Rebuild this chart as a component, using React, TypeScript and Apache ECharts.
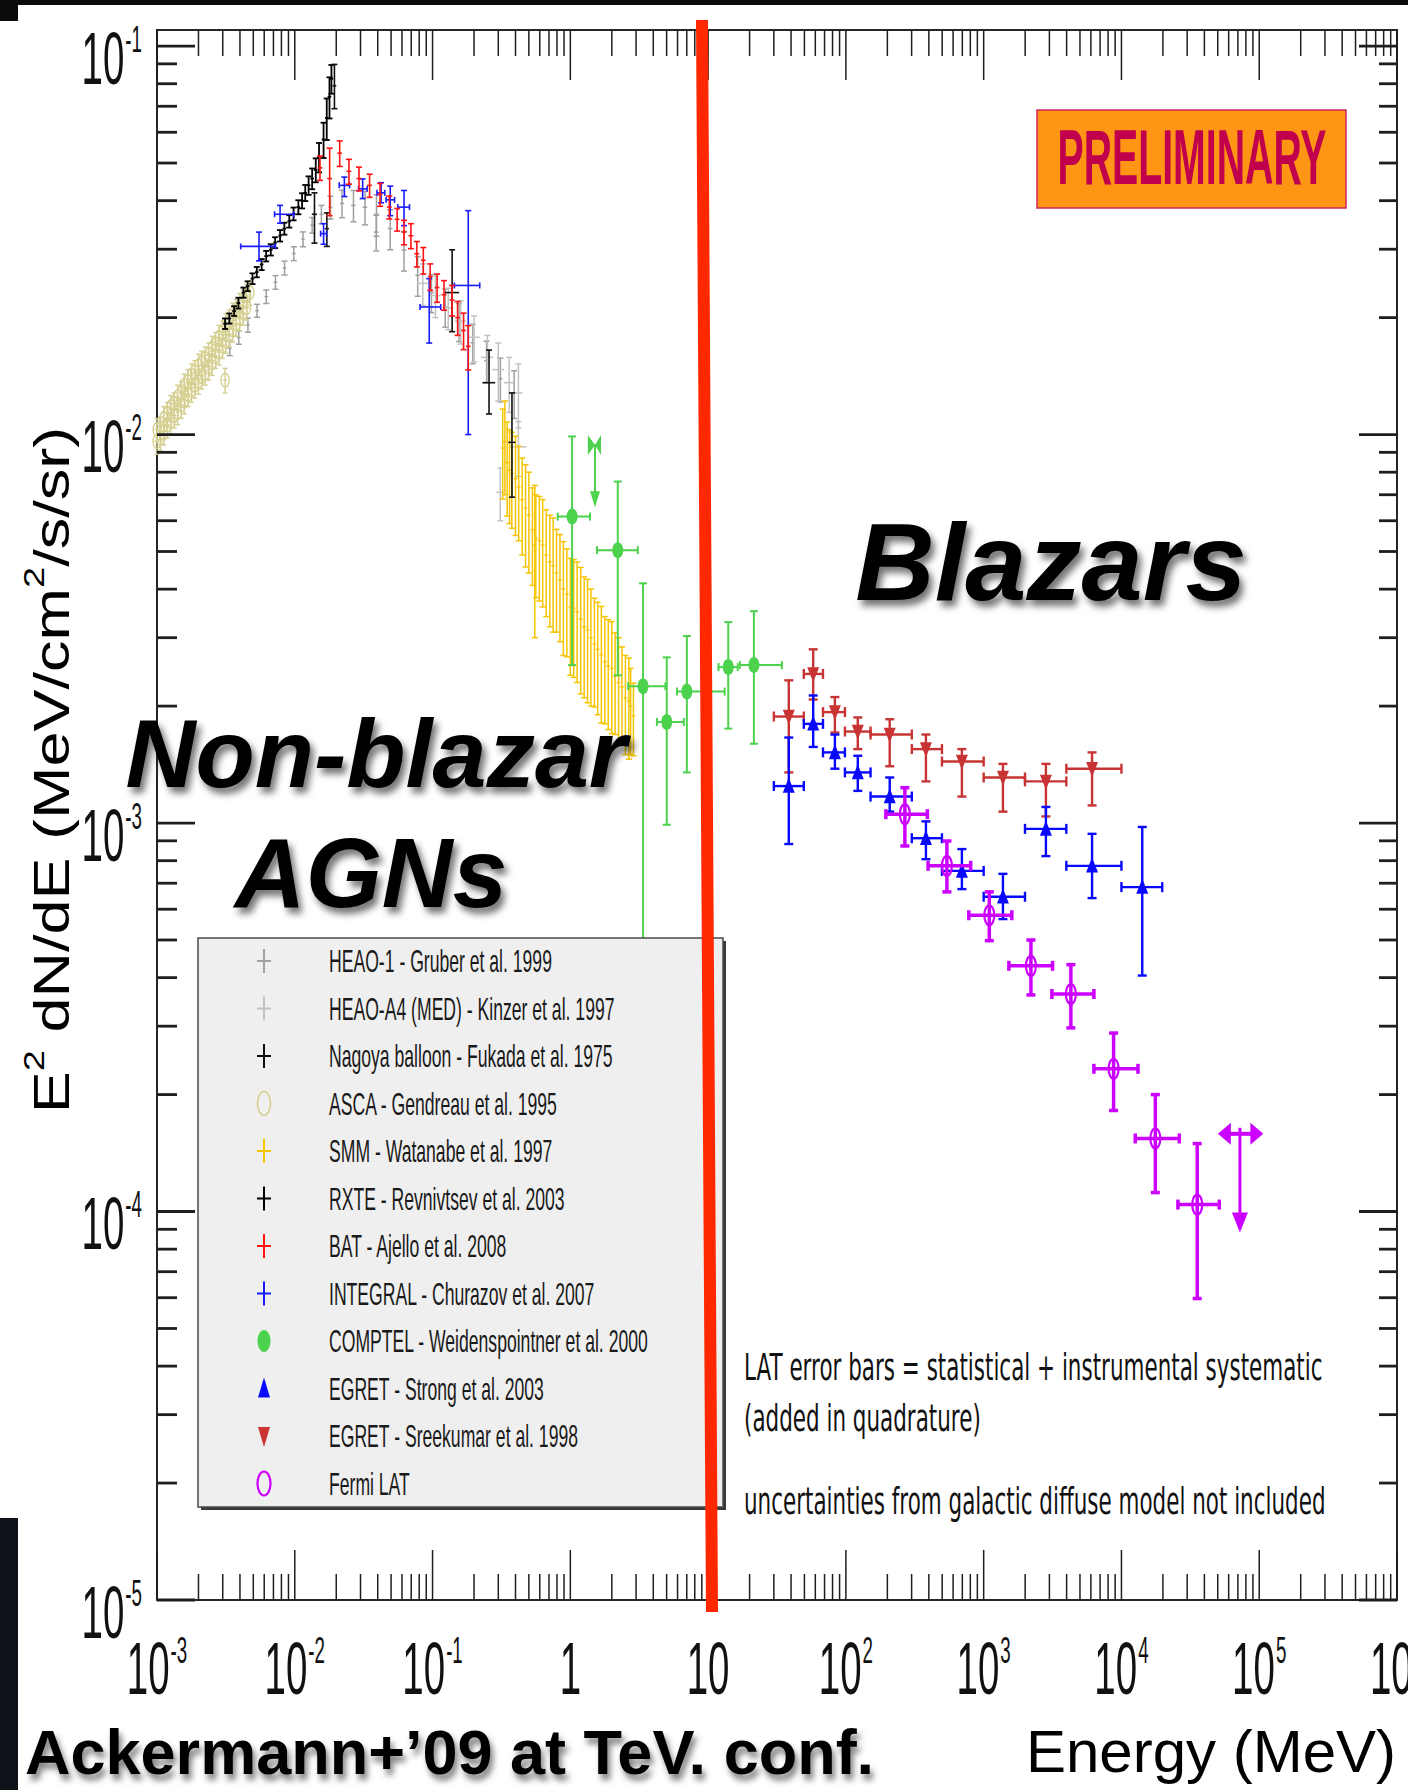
import React, { useEffect, useRef } from "react";
import * as echarts from "echarts";

// ---------------- page / axis ranges ----------------
const PAGE_W = 1408;
const PAGE_H = 1790;
const E_MIN = 1e-3; // MeV
const E_MAX = 1e6;
const F_MIN = 1e-5; // MeV cm^-2 s^-1 sr^-1
const F_MAX = 0.11;

const X_DECADES = [1e-3, 1e-2, 1e-1, 1, 10, 1e2, 1e3, 1e4, 1e5, 1e6];
const X_TICK_LABELS: [string, string][] = [
  ["10", "-3"], ["10", "-2"], ["10", "-1"], ["1", ""], ["10", ""],
  ["10", "2"], ["10", "3"], ["10", "4"], ["10", "5"], ["10", "6"],
];
const Y_DECADES = [1e-5, 1e-4, 1e-3, 1e-2, 1e-1];
const Y_TICK_LABELS: [string, string][] = [["10", "-5"], ["10", "-4"], ["10", "-3"], ["10", "-2"], ["10", "-1"]];
const MINOR_STEPS = [2, 3, 4, 5, 6, 7, 8, 9];

// ---------------- measurements ----------------
// rows: [E, F, dE, dF] (symmetric) or [E, F, Elo, Ehi, Flo, Fhi]

const ASCA_GENDREAU = [
  [1.00e-3, 0.0096, 3e-5, 7e-4], [1.00e-3, 0.0103, 3e-5, 7e-4], [1.06e-3, 0.0104, 3e-5, 7e-4],
  [1.06e-3, 0.0098, 3e-5, 7e-4], [1.12e-3, 0.0101, 3e-5, 7e-4], [1.12e-3, 0.0110, 3e-5, 8e-4],
  [1.19e-3, 0.0113, 4e-5, 8e-4], [1.19e-3, 0.0106, 4e-5, 8e-4], [1.26e-3, 0.0108, 4e-5, 8e-4],
  [1.26e-3, 0.0118, 4e-5, 8e-4], [1.33e-3, 0.0120, 4e-5, 8e-4], [1.33e-3, 0.0112, 4e-5, 8e-4],
  [1.41e-3, 0.0114, 4e-5, 8e-4], [1.41e-3, 0.0125, 4e-5, 9e-4], [1.50e-3, 0.0128, 5e-5, 9e-4],
  [1.50e-3, 0.0119, 5e-5, 9e-4], [1.58e-3, 0.0122, 5e-5, 9e-4], [1.58e-3, 0.0134, 5e-5, 9e-4],
  [1.68e-3, 0.0137, 5e-5, 1.0e-3], [1.68e-3, 0.0127, 5e-5, 9e-4], [1.78e-3, 0.0130, 5e-5, 9e-4],
  [1.78e-3, 0.0142, 5e-5, 1.0e-3], [1.88e-3, 0.0145, 6e-5, 1.0e-3], [1.88e-3, 0.0134, 6e-5, 1.0e-3],
  [2.00e-3, 0.0137, 6e-5, 1.0e-3], [2.00e-3, 0.0150, 6e-5, 1.1e-3], [2.11e-3, 0.0153, 6e-5, 1.1e-3],
  [2.11e-3, 0.0141, 6e-5, 1.0e-3], [2.24e-3, 0.0144, 7e-5, 1.0e-3], [2.24e-3, 0.0157, 7e-5, 1.1e-3],
  [2.37e-3, 0.0161, 7e-5, 1.1e-3], [2.37e-3, 0.0149, 7e-5, 1.1e-3], [2.51e-3, 0.0153, 8e-5, 1.1e-3],
  [2.51e-3, 0.0167, 8e-5, 1.2e-3], [2.66e-3, 0.0171, 8e-5, 1.2e-3], [2.66e-3, 0.0159, 8e-5, 1.1e-3],
  [2.82e-3, 0.0163, 8e-5, 1.2e-3], [2.82e-3, 0.0178, 8e-5, 1.3e-3], [2.99e-3, 0.0183, 9e-5, 1.3e-3],
  [2.99e-3, 0.0169, 9e-5, 1.2e-3], [3.12e-3, 0.0138, 1e-4, 1.0e-3], [3.16e-3, 0.0174, 9e-5, 1.2e-3],
  [3.16e-3, 0.0191, 9e-5, 1.4e-3], [3.35e-3, 0.0195, 1.0e-4, 1.4e-3], [3.35e-3, 0.0181, 1.0e-4, 1.3e-3],
  [3.55e-3, 0.0186, 1.1e-4, 1.3e-3], [3.55e-3, 0.0204, 1.1e-4, 1.4e-3], [3.76e-3, 0.0208, 1.1e-4, 1.5e-3],
  [3.76e-3, 0.0193, 1.1e-4, 1.4e-3], [3.98e-3, 0.0199, 1.2e-4, 1.4e-3], [3.98e-3, 0.0216, 1.2e-4, 1.5e-3],
  [4.22e-3, 0.0220, 1.3e-4, 1.6e-3], [4.22e-3, 0.0206, 1.3e-4, 1.5e-3], [4.47e-3, 0.0212, 1.3e-4, 1.5e-3],
  [4.47e-3, 0.0228, 1.3e-4, 1.6e-3], [4.73e-3, 0.0232, 1.4e-4, 1.7e-3],
];

const HEAO1_GRUBER = [
  [3.37e-3, 0.01667, 1.0e-4, 7e-4], [3.92e-3, 0.01778, 1.2e-4, 7e-4], [4.57e-3, 0.01914, 1.4e-4, 8e-4],
  [5.32e-3, 0.02084, 1.6e-4, 8e-4], [6.21e-3, 0.02265, 1.9e-4, 9e-4], [7.24e-3, 0.02466, 2.2e-4, 1.0e-3],
  [8.43e-3, 0.02685, 2.5e-4, 1.1e-3], [9.84e-3, 0.02924, 3.0e-4, 1.2e-3], [1.148e-2, 0.03184, 3.4e-4, 1.4e-3],
  [1.337e-2, 0.03459, 4.0e-4, 1.6e-3], [1.56e-2, 0.0369, 5.0e-4, 2.0e-3], [1.816e-2, 0.03846, 6.0e-4, 2.6e-3],
  [2.203e-2, 0.03936, 8.0e-4, 3.2e-3], [2.667e-2, 0.0389, 1.0e-3, 3.6e-3], [3.236e-2, 0.03846, 1.2e-3, 3.8e-3],
  [3.9e-2, 0.0332, 1.5e-3, 3.5e-3], [3.917e-2, 0.0369, 1.5e-3, 4.5e-3], [4.93e-2, 0.0339, 2.0e-3, 4.0e-3],
  [6.21e-2, 0.02985, 2.5e-3, 3.5e-3], [7.8e-2, 0.0257, 3.0e-3, 3.0e-3], [9.82e-2, 0.0232, 4.0e-3, 2.6e-3],
  [0.1236, 0.0213, 5.0e-3, 2.4e-3], [0.1556, 0.01954, 6.0e-3, 2.2e-3], [0.196, 0.01722, 8.0e-3, 2.0e-3],
  [0.2466, 0.01549, 1.0e-2, 1.9e-3], [0.3105, 0.01393, 1.2e-2, 1.8e-3], [0.391, 0.0128, 1.5e-2, 1.8e-3],
];

const HEAO_A4_KINZER = [
  [0.085, 0.0245, 0.008, 0.003], [0.105, 0.0228, 0.01, 0.0028], [0.13, 0.0212, 0.012, 0.0026],
  [0.16, 0.0196, 0.015, 0.0025], [0.2, 0.0178, 0.02, 0.0024], [0.25, 0.0158, 0.025, 0.0022],
  [0.3, 0.0147, 0.03, 0.0025], [0.36, 0.0136, 0.03, 0.0022], [0.42, 0.0128, 0.03, 0.0024],
  [0.31, 0.0071, 0.02, 0.0011], [0.42, 0.0093, 0.06, 0.0015],
];

const RXTE_REVNIVTSEV = [
  [3.12e-3, 0.0193, 1.0e-4, 6e-4], [3.35e-3, 0.0199, 1.0e-4, 6e-4], [3.63e-3, 0.0208, 1.1e-4, 6e-4],
  [3.9e-3, 0.0218, 1.2e-4, 7e-4], [4.24e-3, 0.0232, 1.3e-4, 7e-4], [4.55e-3, 0.0241, 1.4e-4, 7e-4],
  [4.93e-3, 0.0252, 1.5e-4, 8e-4], [5.3e-3, 0.0262, 1.6e-4, 8e-4], [5.75e-3, 0.0274, 1.7e-4, 9e-4],
  [6.2e-3, 0.0288, 1.9e-4, 9e-4], [6.7e-3, 0.0299, 2.0e-4, 1.0e-3], [7.2e-3, 0.0312, 2.2e-4, 1.0e-3],
  [7.82e-3, 0.0325, 2.3e-4, 1.1e-3], [8.4e-3, 0.0339, 2.5e-4, 1.2e-3], [9.12e-3, 0.0354, 2.7e-4, 1.3e-3],
  [9.8e-3, 0.037, 3.0e-4, 1.4e-3], [1.062e-2, 0.0385, 3.2e-4, 1.6e-3], [1.13e-2, 0.04, 3.4e-4, 1.8e-3],
  [1.191e-2, 0.0419, 3.6e-4, 2.0e-3], [1.26e-2, 0.0438, 3.8e-4, 2.4e-3], [1.337e-2, 0.0456, 4.0e-4, 2.8e-3],
  [1.42e-2, 0.048, 4.3e-4, 3.4e-3], [1.5e-2, 0.0518, 4.5e-4, 4.5e-3], [1.618e-2, 0.0575, 5.0e-4, 6.0e-3],
  [1.706e-2, 0.0653, 5.0e-4, 8.0e-3], [1.786e-2, 0.0741, 5.5e-4, 9.0e-3], [1.845e-2, 0.0824, 5.5e-4, 7.0e-3],
];

const NAGOYA_FUKADA = [
  [1.39e-2, 0.0369, 1.33e-2, 1.45e-2, 0.0311, 0.0419],
  [1.71e-2, 0.0339, 1.65e-2, 1.77e-2, 0.0305, 0.0372],
  [1.94e-2, 0.079, 1.88e-2, 2.0e-2, 0.069, 0.0897],
  [0.1387, 0.0232, 0.123, 0.156, 0.0184, 0.0299],
  [0.257, 0.0136, 0.23, 0.285, 0.0113, 0.0165],
  [0.377, 0.00955, 0.355, 0.4, 0.0069, 0.0128],
];

const INTEGRAL_CHURAZOV = [
  [5.5e-3, 0.0305, 4.05e-3, 7.24e-3, 0.028, 0.0332],
  [7.82e-3, 0.0369, 7.13e-3, 9.84e-3, 0.035, 0.0389],
  [1.618e-2, 0.0329, 1.54e-2, 1.7e-2, 0.0309, 0.0349],
  [2.29e-2, 0.0438, 2.1e-2, 2.5e-2, 0.041, 0.046],
  [3.11e-2, 0.0429, 2.9e-2, 3.35e-2, 0.0405, 0.0455],
  [4.23e-2, 0.0419, 3.95e-2, 4.5e-2, 0.0395, 0.0445],
  [4.93e-2, 0.0402, 4.6e-2, 5.3e-2, 0.0366, 0.0436],
  [6.21e-2, 0.0385, 5.6e-2, 6.8e-2, 0.0345, 0.0425],
  [9.46e-2, 0.0213, 8.11e-2, 0.1146, 0.0172, 0.0252],
  [0.1816, 0.0242, 0.144, 0.22, 0.01, 0.0377],
];

const BAT_AJELLO = [
  [1.524e-2, 0.0486, 6e-4, 3.5e-3], [1.791e-2, 0.0456, 7e-4, 9.0e-3], [2.118e-2, 0.053, 8e-4, 4.0e-3],
  [2.472e-2, 0.0476, 1.0e-3, 3.5e-3], [2.924e-2, 0.0456, 1.2e-3, 3.2e-3], [3.491e-2, 0.0438, 1.4e-3, 3.0e-3],
  [4.159e-2, 0.0415, 1.6e-3, 2.8e-3], [4.853e-2, 0.0385, 1.9e-3, 2.6e-3], [5.534e-2, 0.0358, 2.2e-3, 2.4e-3],
  [6.209e-2, 0.0332, 2.5e-3, 2.4e-3], [6.966e-2, 0.0325, 2.8e-3, 2.4e-3], [7.691e-2, 0.0292, 3.1e-3, 2.2e-3],
  [8.57e-2, 0.0281, 3.4e-3, 2.2e-3], [9.616e-2, 0.0255, 3.8e-3, 2.0e-3], [0.1079, 0.0239, 4.3e-3, 2.0e-3],
  [0.1211, 0.0229, 4.8e-3, 2.0e-3], [0.1387, 0.0222, 5.5e-3, 2.0e-3], [0.152, 0.02, 6.0e-3, 2.0e-3],
  [0.1679, 0.01854, 6.7e-3, 2.0e-3], [0.1816, 0.01687, 7.2e-3, 2.2e-3],
];

const SMM_WATANABE = [
  [0.323, 0.00923, 0.01, 0.0024], [0.335, 0.0096, 0.01, 0.0026], [0.348, 0.00847, 0.011, 0.0023],
  [0.362, 0.0081, 0.011, 0.0022], [0.376, 0.00794, 0.011, 0.0022], [0.4, 0.0077, 0.012, 0.0022],
  [0.422, 0.00733, 0.013, 0.002], [0.447, 0.0068, 0.013, 0.0019], [0.473, 0.00646, 0.014, 0.0019],
  [0.5, 0.0062, 0.015, 0.0018], [0.531, 0.00569, 0.016, 0.0016], [0.552, 0.0052, 0.016, 0.0022],
  [0.562, 0.0054, 0.017, 0.0016], [0.596, 0.00533, 0.018, 0.0016], [0.63, 0.0052, 0.019, 0.0016],
  [0.668, 0.0049, 0.02, 0.0015], [0.71, 0.0047, 0.021, 0.0015], [0.75, 0.0046, 0.022, 0.0015],
  [0.794, 0.0044, 0.024, 0.0013], [0.841, 0.00423, 0.025, 0.0013], [0.89, 0.004, 0.027, 0.0013],
  [0.944, 0.00388, 0.028, 0.0012], [1.0, 0.0036, 0.03, 0.0012], [1.059, 0.00357, 0.032, 0.0012],
  [1.12, 0.0035, 0.034, 0.0012], [1.189, 0.00335, 0.036, 0.0012], [1.26, 0.0032, 0.038, 0.0011],
  [1.334, 0.00314, 0.04, 0.0011], [1.41, 0.003, 0.042, 0.001], [1.496, 0.00289, 0.045, 0.0009],
  [1.58, 0.0028, 0.047, 0.0009], [1.679, 0.00271, 0.05, 0.0009], [1.78, 0.0026, 0.053, 0.0008],
  [1.884, 0.00254, 0.057, 0.0008], [2.0, 0.0025, 0.06, 0.0008], [2.113, 0.00239, 0.063, 0.0007],
  [2.24, 0.0023, 0.067, 0.0007], [2.371, 0.00224, 0.071, 0.0006], [2.51, 0.0021, 0.075, 0.0006],
  [2.661, 0.00206, 0.08, 0.0006], [2.74, 0.002, 0.082, 0.0005], [2.871, 0.00189, 0.086, 0.0004],
];

const COMPTEL_WEIDENSPOINTNER = [
  [1.03, 6.15e-3, 0.81, 1.39, 2.55e-3, 9.89e-3],
  [2.21, 5.04e-3, 1.56, 3.09, 2.4e-3, 7.57e-3],
  [3.37, 2.25e-3, 2.63, 4.9, 2.5e-4, 4.14e-3],
  [5.01, 1.82e-3, 4.25, 6.67, 9.9e-4, 2.67e-3],
  [7.01, 2.18e-3, 5.94, 13.2, 1.35e-3, 3.03e-3],
  [14.0, 2.52e-3, 11.9, 16.4, 1.75e-3, 3.29e-3],
  [21.5, 2.55e-3, 17.0, 34.3, 1.6e-3, 3.51e-3],
];
// [E, F, Elo, Ehi, F at arrow tip]
const COMPTEL_LIMIT = [[1.51, 9.4e-3, 1.34, 1.67, 6.5e-3]];

const EGRET_SREEKUMAR = [
  [38.5, 1.88e-3, 30.0, 49.5, 1.35e-3, 2.33e-3],
  [57.9, 2.42e-3, 49.5, 68.2, 2.08e-3, 2.8e-3],
  [83.2, 1.93e-3, 68.2, 98.4, 1.71e-3, 2.11e-3],
  [122, 1.72e-3, 98.4, 151, 1.55e-3, 1.87e-3],
  [208, 1.69e-3, 151, 301, 1.4e-3, 1.85e-3],
  [381, 1.55e-3, 301, 498, 1.28e-3, 1.69e-3],
  [695, 1.44e-3, 498, 1000, 1.17e-3, 1.55e-3],
  [1380, 1.31e-3, 1000, 1995, 1.07e-3, 1.42e-3],
  [2830, 1.28e-3, 1995, 3981, 1.04e-3, 1.42e-3],
  [6120, 1.38e-3, 3981, 10000, 1.11e-3, 1.52e-3],
];

const EGRET_STRONG = [
  [38.5, 1.245e-3, 30.0, 49.5, 8.83e-4, 1.66e-3],
  [57.9, 1.8e-3, 49.5, 68.2, 1.57e-3, 2.13e-3],
  [83.2, 1.52e-3, 68.2, 98.4, 1.38e-3, 1.69e-3],
  [122, 1.35e-3, 98.4, 151, 1.21e-3, 1.49e-3],
  [208, 1.17e-3, 151, 301, 1.07e-3, 1.31e-3],
  [381, 9.14e-4, 301, 498, 8.07e-4, 1.01e-3],
  [695, 7.53e-4, 498, 1000, 6.76e-4, 8.57e-4],
  [1380, 6.46e-4, 1000, 1995, 5.66e-4, 7.4e-4],
  [2830, 9.66e-4, 1995, 3981, 8.22e-4, 1.1e-3],
  [6120, 7.76e-4, 3981, 10000, 6.41e-4, 9.38e-4],
  [14160, 6.84e-4, 10000, 19770, 4.05e-4, 9.77e-4],
];

const FERMI_LAT = [
  [268, 1.054e-3, 195, 390, 8.73e-4, 1.233e-3],
  [541, 7.76e-4, 395, 805, 6.65e-4, 8.99e-4],
  [1099, 5.79e-4, 780, 1600, 4.98e-4, 6.65e-4],
  [2203, 4.29e-4, 1524, 3162, 3.61e-4, 5.0e-4],
  [4295, 3.63e-4, 3126, 6310, 2.97e-4, 4.32e-4],
  [8770, 2.33e-4, 6310, 13180, 1.82e-4, 2.88e-4],
  [17620, 1.542e-4, 12590, 26300, 1.119e-4, 2.0e-4],
  [35480, 1.042e-4, 25700, 51290, 5.97e-5, 1.496e-4],
];
// [E, F, Elo, Ehi, F at arrow tip]
const FERMI_LAT_LIMIT = [[72440, 1.585e-4, 50120, 107150, 8.83e-5]];

// ---------------- colours / fonts ----------------
const C_HEAO1 = "#a0a0a0";
const C_HEAO_A4 = "#c2c2c2";
const C_NAGOYA = "#111111";
const C_ASCA = "#d5d091";
const C_SMM = "#f6c500";
const C_RXTE = "#000000";
const C_BAT = "#ff1414";
const C_INTEGRAL = "#1a1aff";
const C_COMPTEL = "#4dd24d";
const C_STRONG = "#0808ff";
const C_SREEKUMAR = "#c83434";
const C_LAT = "#cc00ff";
const C_TICK = "#1e1e1e";
const C_DIVIDER = "#ff2800";

const SANS = "Liberation Sans";
const DEJAVU = "DejaVu Sans";
const SQUEEZE = 0.52;

const LEGEND_ENTRIES: [string, string, string][] = [
  ["HEAO-1 - Gruber et al. 1999", "cross", C_HEAO1],
  ["HEAO-A4 (MED) - Kinzer et al. 1997", "cross", C_HEAO_A4],
  ["Nagoya balloon - Fukada et al. 1975", "cross", C_NAGOYA],
  ["ASCA - Gendreau et al. 1995", "openEllipse", C_ASCA],
  ["SMM - Watanabe et al. 1997", "cross", C_SMM],
  ["RXTE - Revnivtsev et al. 2003", "cross", C_RXTE],
  ["BAT - Ajello et al. 2008", "cross", C_BAT],
  ["INTEGRAL - Churazov et al. 2007", "cross", C_INTEGRAL],
  ["COMPTEL - Weidenspointner et al. 2000", "fillEllipse", C_COMPTEL],
  ["EGRET - Strong et al. 2003", "triUp", C_STRONG],
  ["EGRET - Sreekumar et al. 1998", "triDown", C_SREEKUMAR],
  ["Fermi LAT", "openEllipse", C_LAT],
];

const LAT_NOTES = [
  "LAT error bars = statistical + instrumental systematic",
  "(added in quadrature)",
  "uncertainties from galactic diffuse model not included",
];

// ---------------- helpers ----------------
let measureCtx: any = null;
function textW(text: string, size: number, family: string, weight = "normal", style = "normal") {
  if (!measureCtx) measureCtx = document.createElement("canvas").getContext("2d");
  measureCtx.font = `${style} ${weight} ${size}px "${family}"`;
  return measureCtx.measureText(text).width;
}

function seg(x1: number, y1: number, x2: number, y2: number, stroke: string, lineWidth: number) {
  return { type: "line", shape: { x1, y1, x2, y2 }, style: { stroke, lineWidth } };
}

function markerShapes(kind: string, cx: number, cy: number, color: string, m: any) {
  switch (kind) {
    case "openEllipse":
      return [{ type: "ellipse", shape: { cx, cy, rx: m.rx, ry: m.ry }, style: { fill: "none", stroke: color, lineWidth: m.lw } }];
    case "fillEllipse":
      return [{ type: "ellipse", shape: { cx, cy, rx: m.rx, ry: m.ry }, style: { fill: color } }];
    case "triUp":
      return [{ type: "polygon", shape: { points: [[cx - m.rx, cy + m.ry * 0.45], [cx + m.rx, cy + m.ry * 0.45], [cx, cy - m.ry * 0.55]] }, style: { fill: color } }];
    case "triDown":
      return [{ type: "polygon", shape: { points: [[cx - m.rx, cy - m.ry * 0.45], [cx + m.rx, cy - m.ry * 0.45], [cx, cy + m.ry * 0.55]] }, style: { fill: color } }];
    case "cross":
      return [seg(cx - m.rx, cy, cx + m.rx, cy, color, m.lw), seg(cx, cy - m.ry, cx, cy + m.ry, color, m.lw)];
    default:
      return [];
  }
}

type SeriesDef = {
  name: string; rows: number[][]; color: string; lw: number;
  capY: number; capX: number; marker: string; m?: any;
};

const DATA_SERIES: SeriesDef[] = [
  { name: "HEAO-1", rows: HEAO1_GRUBER, color: C_HEAO1, lw: 1.5, capY: 3, capX: 0, marker: "none" },
  { name: "HEAO-A4 (MED)", rows: HEAO_A4_KINZER, color: C_HEAO_A4, lw: 1.5, capY: 3, capX: 0, marker: "none" },
  { name: "ASCA", rows: ASCA_GENDREAU, color: C_ASCA, lw: 1.4, capY: 2.5, capX: 0, marker: "openEllipse", m: { rx: 4, ry: 7, lw: 1.4 } },
  { name: "SMM", rows: SMM_WATANABE, color: C_SMM, lw: 1.5, capY: 3, capX: 0, marker: "none" },
  { name: "RXTE", rows: RXTE_REVNIVTSEV, color: C_RXTE, lw: 1.8, capY: 3, capX: 0, marker: "none" },
  { name: "Nagoya balloon", rows: NAGOYA_FUKADA, color: C_NAGOYA, lw: 1.6, capY: 3, capX: 0, marker: "none" },
  { name: "INTEGRAL", rows: INTEGRAL_CHURAZOV, color: C_INTEGRAL, lw: 1.6, capY: 3, capX: 3, marker: "none" },
  { name: "BAT", rows: BAT_AJELLO, color: C_BAT, lw: 1.6, capY: 3, capX: 0, marker: "none" },
  { name: "COMPTEL", rows: COMPTEL_WEIDENSPOINTNER, color: C_COMPTEL, lw: 2, capY: 4, capX: 4, marker: "fillEllipse", m: { rx: 5.5, ry: 8 } },
  { name: "EGRET Sreekumar", rows: EGRET_SREEKUMAR, color: C_SREEKUMAR, lw: 2.4, capY: 4.5, capX: 5, marker: "triDown", m: { rx: 6, ry: 15 } },
  { name: "EGRET Strong", rows: EGRET_STRONG, color: C_STRONG, lw: 2.4, capY: 4.5, capX: 5, marker: "triUp", m: { rx: 6, ry: 15 } },
  { name: "Fermi LAT", rows: FERMI_LAT, color: C_LAT, lw: 3.5, capY: 4.5, capX: 5, marker: "openEllipse", m: { rx: 5, ry: 10, lw: 2.2 } },
];

function errorBarRenderer(def: SeriesDef) {
  return (params: any, api: any) => {
    const row = def.rows[params.dataIndex];
    const E = row[0];
    const F = row[1];
    const sym = row.length === 4;
    const eLo = sym ? E - row[2] : row[2];
    const eHi = sym ? E + row[2] : row[3];
    const fLo = sym ? F - row[3] : row[4];
    const fHi = sym ? F + row[3] : row[5];
    const p = api.coord([E, F]);
    const cx = p[0];
    const cy = p[1];
    const xl = api.coord([eLo, F])[0];
    const xr = api.coord([eHi, F])[0];
    const yb = api.coord([E, fLo])[1];
    const yt = api.coord([E, fHi])[1];
    const c = def.color;
    const lw = def.lw;
    const kids: any[] = [seg(xl, cy, xr, cy, c, lw), seg(cx, yt, cx, yb, c, lw)];
    if (def.capY) {
      kids.push(seg(cx - def.capY, yt, cx + def.capY, yt, c, lw), seg(cx - def.capY, yb, cx + def.capY, yb, c, lw));
    }
    if (def.capX) {
      kids.push(seg(xl, cy - def.capX, xl, cy + def.capX, c, lw), seg(xr, cy - def.capX, xr, cy + def.capX, c, lw));
    }
    kids.push(...markerShapes(def.marker, cx, cy, c, def.m));
    return { type: "group", children: kids };
  };
}

function comptelLimitRenderer(params: any, api: any) {
  const [E, F, eLo, eHi, fTip] = COMPTEL_LIMIT[params.dataIndex];
  const [cx, cy] = api.coord([E, F]);
  const xl = api.coord([eLo, F])[0];
  const xr = api.coord([eHi, F])[0];
  const yt = api.coord([E, fTip])[1];
  return {
    type: "group",
    children: [
      { type: "polygon", shape: { points: [[xl, cy - 10], [xl, cy + 10], [cx, cy]] }, style: { fill: C_COMPTEL } },
      { type: "polygon", shape: { points: [[xr, cy - 10], [xr, cy + 10], [cx, cy]] }, style: { fill: C_COMPTEL } },
      seg(xl, cy, xr, cy, C_COMPTEL, 2),
      seg(cx, cy, cx, yt - 12, C_COMPTEL, 2),
      { type: "polygon", shape: { points: [[cx - 5, yt - 16], [cx + 5, yt - 16], [cx, yt]] }, style: { fill: C_COMPTEL } },
    ],
  };
}

function latLimitRenderer(params: any, api: any) {
  const [E, F, eLo, eHi, fTip] = FERMI_LAT_LIMIT[params.dataIndex];
  const [cx, cy] = api.coord([E, F]);
  const xl = api.coord([eLo, F])[0];
  const xr = api.coord([eHi, F])[0];
  const yt = api.coord([E, fTip])[1];
  return {
    type: "group",
    children: [
      seg(xl + 10, cy, xr - 10, cy, C_LAT, 4),
      { type: "polygon", shape: { points: [[xl, cy], [xl + 13, cy - 11], [xl + 13, cy + 11]] }, style: { fill: C_LAT } },
      { type: "polygon", shape: { points: [[xr, cy], [xr - 13, cy - 11], [xr - 13, cy + 11]] }, style: { fill: C_LAT } },
      seg(cx, cy - 6, cx, yt - 16, C_LAT, 3),
      { type: "polygon", shape: { points: [[cx - 8, yt - 20], [cx + 8, yt - 20], [cx, yt]] }, style: { fill: C_LAT } },
    ],
  };
}

// ---------------- ticks and tick labels ----------------
function buildTickRows() {
  const xRows: number[][] = [];
  X_DECADES.forEach((v) => xRows.push([v, F_MIN, 1]));
  for (let i = 0; i < X_DECADES.length - 1; i++) {
    for (const m of MINOR_STEPS) xRows.push([X_DECADES[i] * m, F_MIN, 0]);
  }
  const yRows: number[][] = [];
  Y_DECADES.forEach((v) => yRows.push([E_MIN, v, 1]));
  for (let i = 0; i < Y_DECADES.length - 1; i++) {
    for (const m of MINOR_STEPS) yRows.push([E_MIN, Y_DECADES[i] * m, 0]);
  }
  return { xRows, yRows };
}

function labelText(text: string, x: number, y: number, size: number, align: string) {
  return {
    type: "text",
    x,
    y,
    scaleX: SQUEEZE,
    style: { text, fill: "#111", fontSize: size, fontFamily: SANS, textAlign: align, textVerticalAlign: "middle" },
  };
}

const BIG = 74;
const EXP = 36;

function xLabelRenderer(params: any, api: any) {
  const cs = params.coordSys;
  const [mant, ex] = X_TICK_LABELS[params.dataIndex];
  const px = api.coord([X_DECADES[params.dataIndex], F_MIN])[0];
  const wm = textW(mant, BIG, SANS) * SQUEEZE;
  const we = ex ? textW(ex, EXP, SANS) * SQUEEZE : 0;
  const gap = ex ? 1 : 0;
  const x0 = px - (wm + gap + we) / 2;
  const base = cs.y + cs.height;
  const kids: any[] = [labelText(mant, x0, base + 68, BIG, "left")];
  if (ex) kids.push(labelText(ex, x0 + wm + gap, base + 50, EXP, "left"));
  return { type: "group", children: kids };
}

function yLabelRenderer(params: any, api: any) {
  const cs = params.coordSys;
  const [mant, ex] = Y_TICK_LABELS[params.dataIndex];
  const py = api.coord([E_MIN, Y_DECADES[params.dataIndex]])[1];
  const right = cs.x - 15;
  const we = textW(ex, EXP, SANS) * SQUEEZE;
  return {
    type: "group",
    children: [
      labelText(mant, right - we - 1, py + 12, BIG, "right"),
      labelText(ex, right, py - 7, EXP, "right"),
    ],
  };
}

// ---------------- overlay graphics ----------------
function legendElements() {
  const left = 198, top = 938, w = 525, h = 569;
  const els: any[] = [
    { type: "rect", z: 40, shape: { x: left + 3, y: top + 3, width: w, height: h }, style: { fill: "#3a3a3a" } },
    { type: "rect", z: 41, shape: { x: left, y: top, width: w, height: h }, style: { fill: "#efefef", stroke: "#4a4a4a", lineWidth: 1.5 } },
  ];
  LEGEND_ENTRIES.forEach(([label, kind, color], i) => {
    const cy = 961 + i * 47.5;
    let m: any = { rx: 7, ry: 12, lw: 2 };
    if (kind === "openEllipse") m = { rx: 6.5, ry: 12, lw: color === C_LAT ? 2.2 : 1.6 };
    if (kind === "fillEllipse") m = { rx: 6.5, ry: 11 };
    if (kind === "triUp" || kind === "triDown") m = { rx: 6, ry: 20 };
    markerShapes(kind, 264, cy, color, m).forEach((shape: any) => els.push({ ...shape, z: 43 }));
    els.push({
      type: "text", z: 43, x: 329, y: cy, scaleX: 0.55,
      style: { text: label, fill: "#1a1a1a", fontSize: 32, fontFamily: SANS, textAlign: "left", textVerticalAlign: "middle" },
    });
  });
  return els;
}

function yTitleElement() {
  const big = 63, small = 38;
  const pieces: [string, number][] = [["E", big], ["2", small], [" dN/dE (MeV/cm", big], ["2", small], ["/s/sr)", big]];
  const widths = pieces.map(([t, s]) => textW(t, s, SANS));
  const total = widths.reduce((a, b) => a + b, 0);
  let x = -total / 2;
  const children = pieces.map(([t, s], i) => {
    const el = {
      type: "text", z: 60, x, y: s === big ? 0 : -22,
      style: { text: t, fill: "#000", fontSize: s, fontFamily: SANS, textAlign: "left", textVerticalAlign: "middle" },
    };
    x += widths[i];
    return el;
  });
  return { type: "group", z: 60, x: 51, y: 770, rotation: Math.PI / 2, scaleY: 0.8, children };
}

const SHADOW = { textShadowColor: "rgba(0,0,0,0.55)", textShadowBlur: 7, textShadowOffsetX: 4, textShadowOffsetY: 6 };

function bigItalic(text: string, x: number, y: number, size: number) {
  return {
    type: "text", z: 70, x, y,
    style: {
      text, fill: "#000", fontSize: size, fontFamily: SANS, fontWeight: "bold", fontStyle: "italic",
      textAlign: "center", textVerticalAlign: "middle", ...SHADOW,
    },
  };
}

function overlayElements() {
  const els: any[] = [];
  // dark slide edges
  els.push({ type: "rect", z: 90, shape: { x: 0, y: 0, width: PAGE_W, height: 5 }, style: { fill: "#0b0b0d" } });
  els.push({ type: "rect", z: 90, shape: { x: 0, y: 0, width: 18, height: 21 }, style: { fill: "#0b0b0d" } });
  els.push({ type: "rect", z: 90, shape: { x: 0, y: 1518, width: 18, height: PAGE_H - 1518 }, style: { fill: "#0e1117" } });

  // PRELIMINARY stamp
  els.push({ type: "rect", z: 50, shape: { x: 1037, y: 110, width: 309, height: 98 }, style: { fill: "#ff9514", stroke: "#d0245a", lineWidth: 1.5 } });
  els.push({
    type: "text", z: 51, x: 1192, y: 158, scaleX: 0.51,
    style: { text: "PRELIMINARY", fill: "#c0004c", fontSize: 77, fontFamily: SANS, fontWeight: "bold", textAlign: "center", textVerticalAlign: "middle" },
  });

  els.push(...legendElements());

  // LAT notes
  [1366, 1417, 1500].forEach((y, i) => {
    els.push({
      type: "text", z: 45, x: 744, y, scaleX: 0.565,
      style: { text: LAT_NOTES[i], fill: "#111", fontSize: 38, fontFamily: DEJAVU, textAlign: "left", textVerticalAlign: "middle" },
    });
  });

  // region captions
  els.push(bigItalic("Non-blazar", 376, 753, 97));
  els.push(bigItalic("AGNs", 371, 873, 98));
  els.push(bigItalic("Blazars", 1051, 561, 110));

  // axis titles and credit
  els.push(yTitleElement());
  els.push({
    type: "text", z: 60, x: 1396, y: 1751,
    style: { text: "Energy (MeV)", fill: "#000", fontSize: 60, fontFamily: SANS, textAlign: "right", textVerticalAlign: "middle" },
  });
  els.push({
    type: "text", z: 60, x: 25, y: 1752,
    style: {
      text: "Ackermann+\u201909 at TeV. conf.", fill: "#000", fontSize: 63, fontFamily: SANS, fontWeight: "bold",
      textAlign: "left", textVerticalAlign: "middle", textShadowColor: "rgba(0,0,0,0.5)", textShadowBlur: 6, textShadowOffsetX: 3, textShadowOffsetY: 6,
    },
  });

  // divider between the two source classes
  els.push({ type: "line", z: 80, shape: { x1: 702, y1: 20, x2: 712, y2: 1612 }, style: { stroke: C_DIVIDER, lineWidth: 12 } });
  return els;
}

// ---------------- option ----------------
function buildOption() {
  const { xRows, yRows } = buildTickRows();
  const hidden = { axisLine: { show: false }, axisTick: { show: false }, axisLabel: { show: false }, splitLine: { show: false } };

  const series: any[] = DATA_SERIES.map((def, i) => ({
    type: "custom",
    name: def.name,
    coordinateSystem: "cartesian2d",
    data: def.rows,
    encode: { x: 0, y: 1 },
    silent: true,
    clip: false,
    z: 2 + i * 0.01,
    renderItem: errorBarRenderer(def),
  }));

  series.push({
    type: "custom", name: "COMPTEL limit", coordinateSystem: "cartesian2d", data: COMPTEL_LIMIT,
    encode: { x: 0, y: 1 }, silent: true, clip: false, z: 3, renderItem: comptelLimitRenderer,
  });
  series.push({
    type: "custom", name: "Fermi LAT limit", coordinateSystem: "cartesian2d", data: FERMI_LAT_LIMIT,
    encode: { x: 0, y: 1 }, silent: true, clip: false, z: 3, renderItem: latLimitRenderer,
  });

  series.push({
    type: "custom", name: "x ticks", coordinateSystem: "cartesian2d", data: xRows,
    encode: { x: 0, y: 1 }, silent: true, clip: false, z: 5,
    renderItem: (params: any, api: any) => {
      const cs = params.coordSys;
      const row = xRows[params.dataIndex];
      const px = api.coord([row[0], F_MIN])[0];
      const len = row[2] ? 50 : 26;
      const top = cs.y;
      const bot = cs.y + cs.height;
      return { type: "group", children: [seg(px, bot, px, bot - len, C_TICK, 1.5), seg(px, top, px, top + len, C_TICK, 1.5)] };
    },
  });
  series.push({
    type: "custom", name: "y ticks", coordinateSystem: "cartesian2d", data: yRows,
    encode: { x: 0, y: 1 }, silent: true, clip: false, z: 5,
    renderItem: (params: any, api: any) => {
      const cs = params.coordSys;
      const row = yRows[params.dataIndex];
      const py = api.coord([E_MIN, row[1]])[1];
      const lenL = row[2] ? 38 : 20;
      const lenR = row[2] ? 38 : 18;
      const l = cs.x;
      const r = cs.x + cs.width;
      return { type: "group", children: [seg(l, py, l + lenL, py, C_TICK, 2.8), seg(r, py, r - lenR, py, C_TICK, 2.8)] };
    },
  });
  series.push({
    type: "custom", name: "x labels", coordinateSystem: "cartesian2d",
    data: X_DECADES.map((v) => [v, F_MIN]), encode: { x: 0, y: 1 }, silent: true, clip: false, z: 5,
    renderItem: xLabelRenderer,
  });
  series.push({
    type: "custom", name: "y labels", coordinateSystem: "cartesian2d",
    data: Y_DECADES.map((v) => [E_MIN, v]), encode: { x: 0, y: 1 }, silent: true, clip: false, z: 5,
    renderItem: yLabelRenderer,
  });

  return {
    animation: false,
    backgroundColor: "#ffffff",
    grid: { left: 157, top: 30, width: 1240, height: 1570, show: true, borderColor: "#262626", borderWidth: 2, backgroundColor: "transparent" },
    xAxis: { type: "log", logBase: 10, min: E_MIN, max: E_MAX, ...hidden },
    yAxis: { type: "log", logBase: 10, min: F_MIN, max: F_MAX, ...hidden },
    series,
    graphic: { elements: overlayElements() },
  };
}

export default function App() {
  const ref = useRef<HTMLDivElement>(null);
  useEffect(() => {
    const chart = echarts.init(ref.current as HTMLDivElement, null, { renderer: "svg", width: PAGE_W, height: PAGE_H });
    chart.setOption(buildOption() as any);
    return () => chart.dispose();
  }, []);
  return (
    <div
      ref={ref}
      style={{ position: "absolute", left: 0, top: 0, width: PAGE_W, height: PAGE_H, background: "#ffffff" }}
    />
  );
}
